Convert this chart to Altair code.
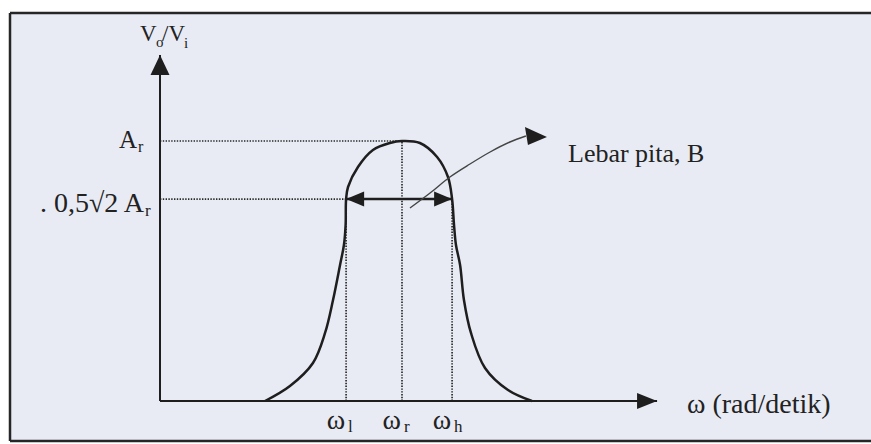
import math
import altair as alt
import pandas as pd

# ---- values -------------------------------------------------------------
# Frequency in units of the resonant frequency, gain in units of A_r
OMEGA_L = 0.769
OMEGA_R = 1.0
OMEGA_H = 1.207
A_R = 1.0
HALF = 0.5 * math.sqrt(2) * A_R          # 0,5√2 A_r

curve_omega = [0.434, 0.537, 0.632, 0.682, 0.715, 0.744, 0.760, 0.767, OMEGA_L,
               0.777, 0.818, 0.880, 0.950, OMEGA_R, 1.074, 1.145, 1.190, OMEGA_H,
               1.215, 1.223, 1.240, 1.256, 1.285, 1.343, 1.438, 1.537]
curve_gain = [0.0, 0.0201, 0.0718, 0.1593, 0.2738, 0.4116, 0.4967, 0.5859, HALF,
              0.7659, 0.8656, 0.9529, 0.9895, A_R, 0.9895, 0.9167, 0.8153, HALF,
              0.5859, 0.4967, 0.4116, 0.2738, 0.1593, 0.0592, 0.0131, 0.0]

# curved pointer towards the "Lebar pita, B" note
pointer_omega = [1.033, 1.116, 1.198, 1.281, 1.364, 1.446, 1.512]
pointer_gain = [0.6649, 0.7366, 0.8153, 0.8808, 0.9425, 0.9947, 1.0264]
pointer_tip = (1.599, 1.0211)

X_END = 2.054      # ω axis arrow tip
Y_END = 1.479      # V_o/V_i axis arrow tip

tick_omega = [OMEGA_L, OMEGA_R, OMEGA_H]
tick_sub = ["l", "r", "h"]

# ---- scales -------------------------------------------------------------
VIEW_W, VIEW_H = 861, 428
ORIGIN_X, ORIGIN_Y = 150, 388          # axis crossing inside the view
PX_PER_OMEGA = 242
PX_PER_UNIT = 260
EXP = 0.73

x_scale = alt.Scale(domain=[-ORIGIN_X / PX_PER_OMEGA, (VIEW_W - ORIGIN_X) / PX_PER_OMEGA],
                    nice=False, zero=False)
y_scale = alt.Scale(type="pow", exponent=EXP,
                    domain=[-((VIEW_H - ORIGIN_Y) / PX_PER_UNIT) ** (1 / EXP),
                            (ORIGIN_Y / PX_PER_UNIT) ** (1 / EXP)],
                    nice=False, zero=False)

INK = "#1e1e1e"
FONT = "Liberation Serif"


def X(field):
    return alt.X(field, type="quantitative", scale=x_scale, axis=None)


def Y(field):
    return alt.Y(field, type="quantitative", scale=y_scale, axis=None)


# ---- data tables --------------------------------------------------------
curve_df = pd.DataFrame({"omega": curve_omega, "gain": curve_gain,
                         "i": range(len(curve_omega))})
pointer_df = pd.DataFrame({"omega": pointer_omega, "gain": pointer_gain,
                           "i": range(len(pointer_omega))})
axes_df = pd.DataFrame({"w0": [0, 0], "w1": [X_END, 0], "g0": [0, 0], "g1": [0, Y_END]})
guides_df = pd.DataFrame({
    "w0": [0, 0, OMEGA_L, OMEGA_R, OMEGA_H],
    "w1": [OMEGA_R, OMEGA_L, OMEGA_L, OMEGA_R, OMEGA_H],
    "g0": [A_R, HALF, 0, 0, 0],
    "g1": [A_R, HALF, HALF, A_R, HALF],
})
band_df = pd.DataFrame({"w0": [OMEGA_L], "w1": [OMEGA_H], "g0": [HALF]})
ticks_df = pd.DataFrame({"omega": tick_omega, "sub": tick_sub})
levels_df = pd.DataFrame({"gain": [A_R]})
half_df = pd.DataFrame({"gain": [HALF]})
one_row = alt.Data(values=[{}])


def head(path, omega, gain):
    return alt.Chart(pd.DataFrame({"omega": [omega], "gain": [gain]})).mark_point(
        shape=path, size=4, filled=True, color=INK, opacity=1, strokeWidth=0
    ).encode(x=X("omega"), y=Y("gain"))


def edge(x, x2, y, y2):
    # one edge of the page frame, in view pixels
    return alt.Chart(one_row).mark_rule(color="#262626", strokeWidth=2.5).encode(
        x=alt.value(x), x2=alt.value(x2), y=alt.value(y), y2=alt.value(y2))


# the frame's right edge runs off the page
frame = [edge(0, 0, 0, VIEW_H), edge(0, VIEW_W, 0, 0), edge(0, VIEW_W, VIEW_H, VIEW_H)]

axes = alt.Chart(axes_df).mark_rule(color=INK, strokeWidth=2).encode(
    x=X("w0"), x2="w1", y=Y("g0"), y2="g1")

guides = alt.Chart(guides_df).mark_rule(color="#2a2a2a", strokeWidth=1.7,
                                         strokeDash=[1.4, 1.4]).encode(
    x=X("w0"), x2="w1", y=Y("g0"), y2="g1")

curve = alt.Chart(curve_df).mark_line(interpolate="catmull-rom", color=INK,
                                       strokeWidth=2.5).encode(
    x=X("omega"), y=Y("gain"), order="i")

band = alt.Chart(band_df).mark_rule(color=INK, strokeWidth=2.5).encode(
    x=X("w0"), x2="w1", y=Y("g0"))

pointer = alt.Chart(pointer_df).mark_line(interpolate="catmull-rom", color="#444444",
                                           strokeWidth=1.4).encode(
    x=X("omega"), y=Y("gain"), order="i")

heads = [
    head("M0,0L-9.5,20L9.5,20Z", 0, Y_END),            # V_o/V_i axis
    head("M0,0L-20,-8L-20,8Z", X_END, 0),             # ω axis
    head("M0,0L18,-7.5L18,7.5Z", OMEGA_L, HALF),      # band, left
    head("M0,0L-18,-7.5L-18,7.5Z", OMEGA_H, HALF),    # band, right
    head("M0,0L-22,-10L-19,8Z", *pointer_tip),        # pointer
]

txt = dict(font=FONT, color="#222222")

# tick labels ω_l, ω_r, ω_h
tick_main = alt.Chart(ticks_df).mark_text(align="right", baseline="alphabetic",
                                           fontSize=28, dx=-1, **txt).encode(
    x=X("omega"), y=alt.value(416), text=alt.value("ω"))
tick_subs = alt.Chart(ticks_df).mark_text(align="left", baseline="alphabetic",
                                           fontSize=17, dx=2, **txt).encode(
    x=X("omega"), y=alt.value(419), text="sub:N")

# level labels A_r and 0,5√2 A_r
ar_main = alt.Chart(levels_df).mark_text(align="right", baseline="alphabetic",
                                          fontSize=25, dy=7, **txt).encode(
    x=alt.value(127), y=Y("gain"), text=alt.value("A"))
ar_sub = alt.Chart(levels_df).mark_text(align="left", baseline="alphabetic",
                                         fontSize=16, dy=11, **txt).encode(
    x=alt.value(128), y=Y("gain"), text=alt.value("r"))
half_main = alt.Chart(half_df).mark_text(align="right", baseline="alphabetic",
                                          fontSize=28, dy=13, **txt).encode(
    x=alt.value(134), y=Y("gain"), text=alt.value(". 0,5√2 A"))
half_sub = alt.Chart(half_df).mark_text(align="left", baseline="alphabetic",
                                         fontSize=17, dy=17, **txt).encode(
    x=alt.value(135), y=Y("gain"), text=alt.value("r"))


def note(text, x, y, size, align="left"):
    return alt.Chart(one_row).mark_text(
        align=align, baseline="alphabetic", fontSize=size, **txt
    ).encode(x=alt.value(x), y=alt.value(y), text=alt.value(text))


titles = [
    note("V", 130, 28, 23),
    note("o", 146, 34, 15),
    note("/V", 152, 28, 23),
    note("i", 174, 35, 15),
    note("ω (rad/detik)", 677, 400, 28),
    note("Lebar pita, B", 558, 149, 26),
]

chart = alt.layer(
    *frame, guides, axes, curve, band, pointer, *heads,
    tick_main, tick_subs, ar_main, ar_sub, half_main, half_sub, *titles
).properties(
    width=VIEW_W, height=VIEW_H,
    autosize="none",
    padding={"left": 10, "top": 13, "right": 0, "bottom": 3},
    background="white",
).configure_view(stroke=None, fill="#e8ebf4")

chart.save("out.html", embed_options={"renderer": "svg", "actions": False})
